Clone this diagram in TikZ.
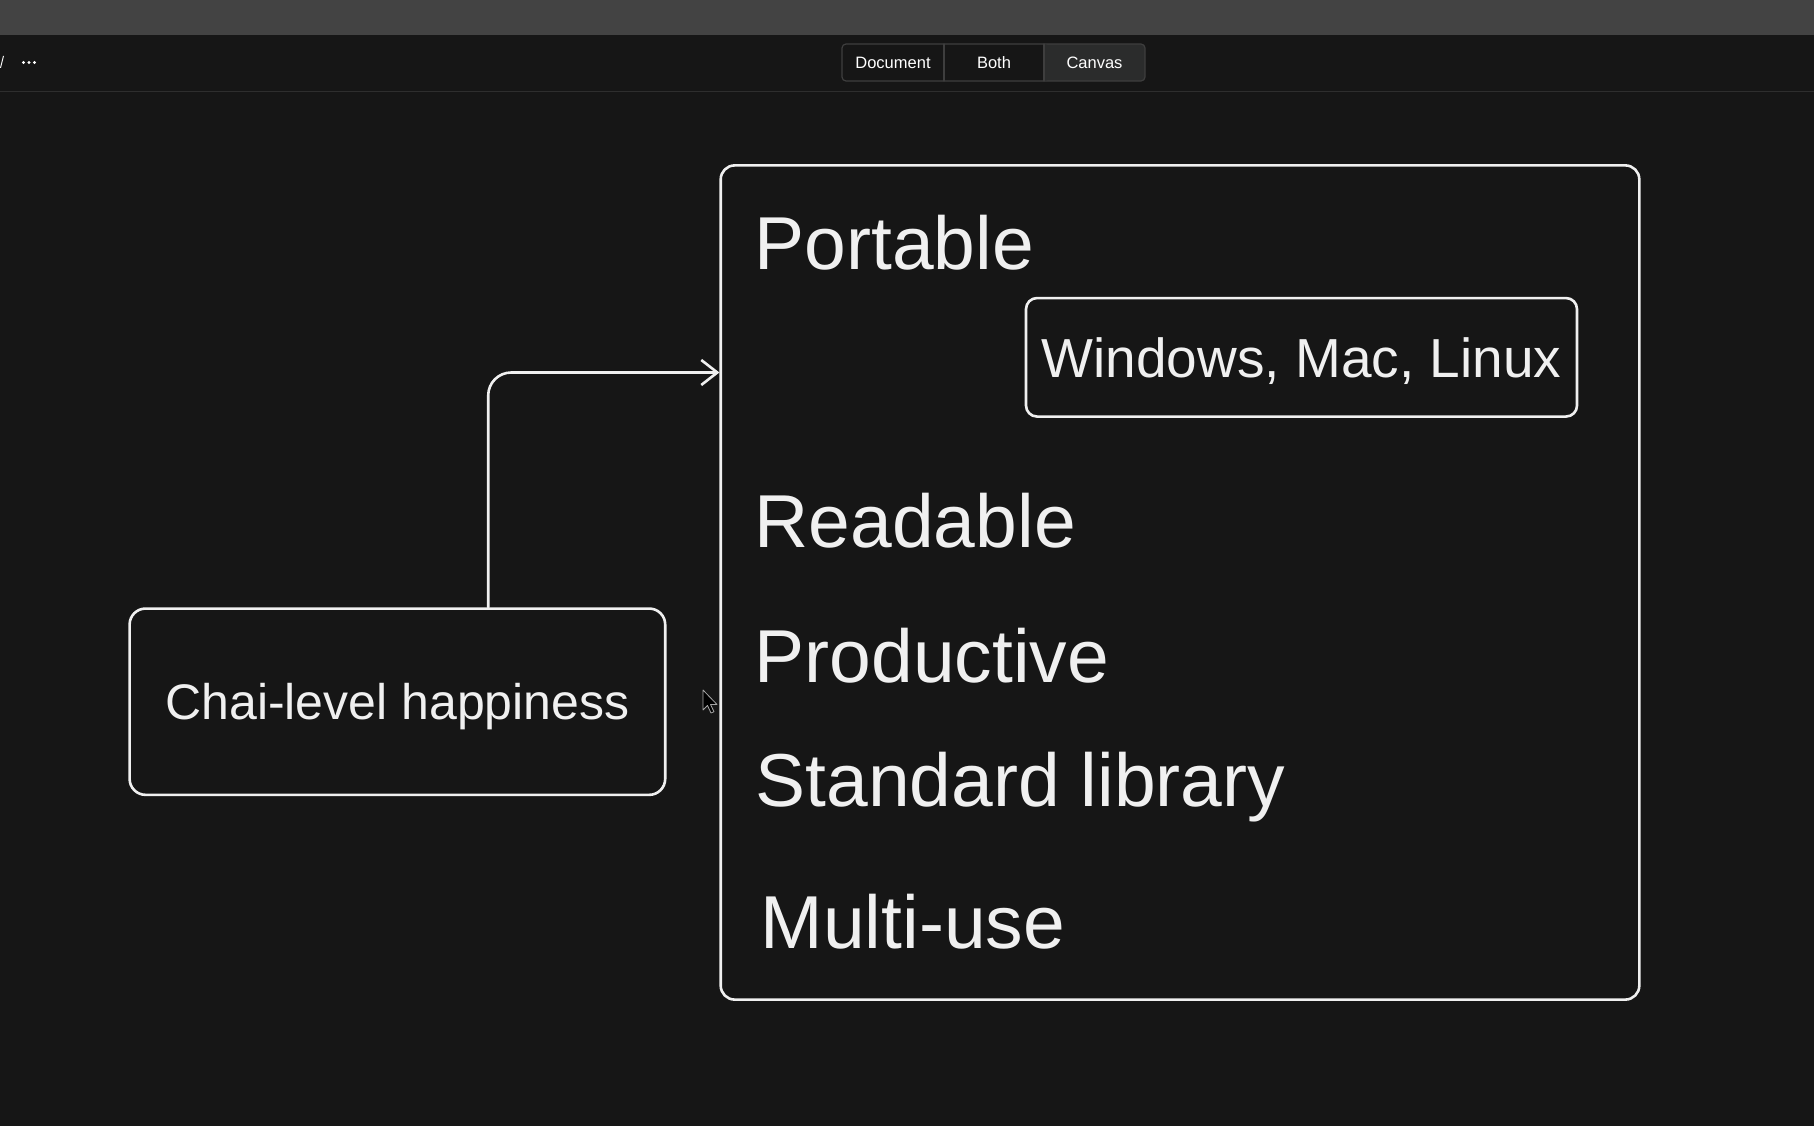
\documentclass[tikz,border=0pt]{standalone}
\usepackage{fontspec}
\setmainfont{Liberation Sans}
\usetikzlibrary{arrows.meta}
\definecolor{canvasbg}{RGB}{22,22,22}
\definecolor{chalk}{RGB}{240,240,240}
\definecolor{topbar}{RGB}{67,67,67}
\definecolor{rulegray}{RGB}{46,46,46}
\definecolor{btnedge}{RGB}{62,62,62}
\definecolor{btnon}{RGB}{43,44,44}
\begin{document}
\begin{tikzpicture}[x=1pt,y=-1pt, line join=round, line cap=round,
    sketch/.style={draw=chalk, line width=2.6pt, rounded corners=14pt, inner sep=0pt, text=chalk, text depth=0pt},
    item/.style={anchor=base west, text=chalk, inner sep=0pt, font=\fontsize{75}{90}\selectfont},
    link/.style={draw=chalk, line width=2.6pt, rounded corners=23pt, -{Straight Barb[length=16pt,width=25pt]}},
    btn/.style={text=white, inner sep=0pt, font=\fontsize{16.5}{20}\selectfont}]
    \path[use as bounding box, fill=canvasbg] (0,0) rectangle (1814,1126);
    \fill[topbar] (0,0) rectangle (1814,34.7);
    \draw[rulegray, line width=1.6pt] (0,91.4) -- (1814,91.4);
    \fill[chalk!80] (0,68) -- (3,56) -- (4,56) -- (1,68) -- cycle;
    \foreach \x in {23.5,29,34.5}{
        \fill[white] (\x,62.5) circle(1.7pt);}
    % view switch
    \fill[btnon, rounded corners=4pt] (1044,44) rectangle (1145,81);
    \draw[btnedge, line width=1.2pt, rounded corners=4pt] (842,44) rectangle (1145,81);
    \draw[btnedge, line width=1.2pt] (944,44) -- (944,81) (1044,44) -- (1044,81);
    \foreach \name/\x in {Document/893,Both/994,Canvas/1094.5}{
        \node[btn] (btn\name) at (\x,62.5) {\name};}
    % diagram
    \node[sketch, minimum width=918.6pt, minimum height=834.2pt] (langbox) at (1180,582.5) {};
    \foreach \name/\txt/\x/\y in {portable/Portable/754.5/269.6, readable/Readable/754.5/547.2,
        productive/Productive/754.5/682.6, stdlib/Standard library/755.5/806.4, multiuse/Multi-use/760.5/948.7}{
        \node[item] (\name) at (\x,\y) {\txt};}
    \node[sketch, rounded corners=11pt, minimum width=551pt, minimum height=118.5pt,
        font=\fontsize{55}{66}\selectfont] (platforms) at (1301.5,357.3) {Windows, Mac, Linux};
    \node[sketch, rounded corners=16pt, minimum width=535.6pt, minimum height=186.3pt,
        font=\fontsize{50}{60}\selectfont] (chai) at (397.4,701.7) {Chai-level happiness};
    \coordinate (bend) at (488.2,372.5);
    \draw[link] (chai.north -| bend) -- (bend) -- (bend -| langbox.west);
    % pointer
    \draw[fill=black, draw=gray!70, line width=0.8pt] (703,690) -- ++(0,20) -- ++(4.5,-4.5) -- ++(3.5,7.5)
        -- ++(3,-1.3) -- ++(-3.5,-7.2) -- ++(6.5,0) -- cycle;
\end{tikzpicture}
\end{document}
